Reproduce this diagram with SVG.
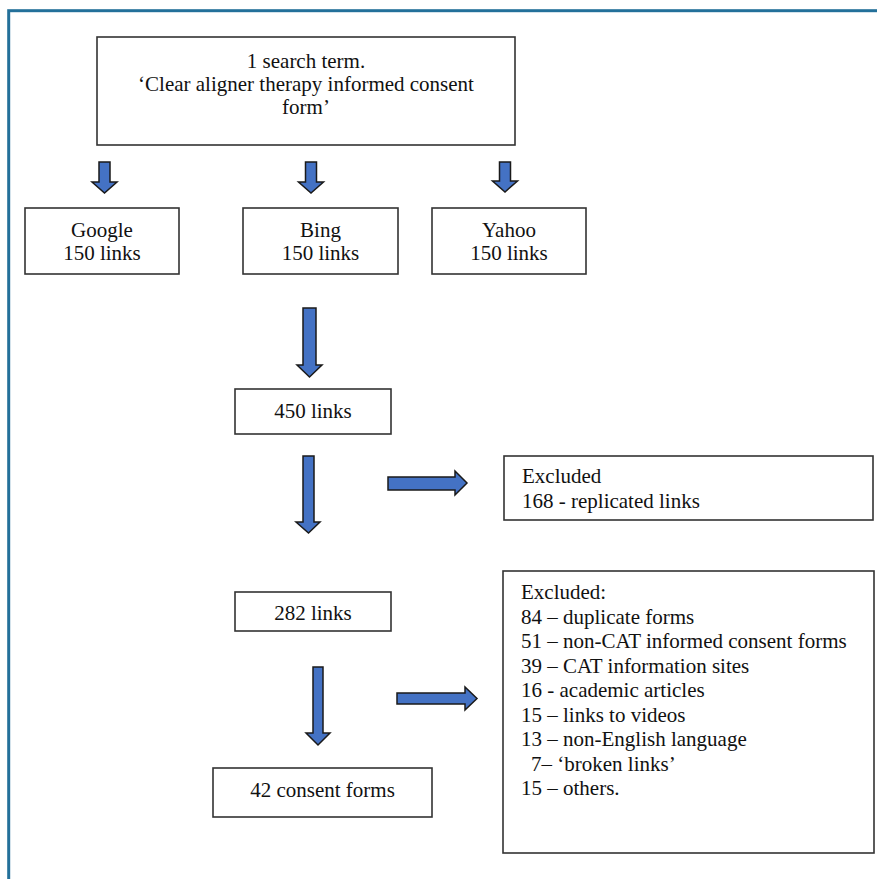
<svg xmlns="http://www.w3.org/2000/svg" width="877" height="879" viewBox="0 0 877 879">
<style>
.box{fill:#fff;stroke:#333;stroke-width:1.6}
.arr{fill:#4472c4;stroke:#1a1a1a;stroke-width:1.5;stroke-linejoin:miter}
.t{font-family:'Liberation Serif','DejaVu Serif','Times New Roman',Times,serif;font-size:21px;fill:#111}
.c{text-anchor:middle}
</style>
<rect x="0" y="0" width="877" height="879" fill="#fff"/>
<rect x="8.7" y="10.7" width="880" height="880" fill="none" stroke="#23709a" stroke-width="3"/>
<g class="t" font-family="Liberation Serif, DejaVu Serif, serif">
<g id="search">
<rect class="box" x="97" y="37" width="418" height="108"/>
<text class="c" x="306" y="68">1 search term.</text>
<text class="c" x="306" y="91">‘Clear aligner therapy informed consent</text>
<text class="c" x="306" y="114">form’</text>
</g>
<g id="google">
<rect class="box" x="25" y="208" width="154" height="66"/>
<text class="c" x="102" y="237">Google</text>
<text class="c" x="102" y="260">150 links</text>
</g>
<g id="bing">
<rect class="box" x="243" y="208" width="155" height="66"/>
<text class="c" x="320.5" y="237">Bing</text>
<text class="c" x="320.5" y="260">150 links</text>
</g>
<g id="yahoo">
<rect class="box" x="432" y="208" width="154" height="66"/>
<text class="c" x="509" y="237">Yahoo</text>
<text class="c" x="509" y="260">150 links</text>
</g>
<g id="links450">
<rect class="box" x="235" y="389" width="156" height="45"/>
<text class="c" x="313" y="418">450 links</text>
</g>
<g id="excluded1">
<rect class="box" x="504" y="456" width="369" height="64"/>
<text x="522" y="483">Excluded</text>
<text x="522" y="508">168 - replicated links</text>
</g>
<g id="links282">
<rect class="box" x="235" y="592" width="156" height="39"/>
<text class="c" x="313" y="620">282 links</text>
</g>
<g id="excluded2">
<rect class="box" x="503" y="571" width="371" height="282"/>
<text x="521" y="599">Excluded:</text>
<text x="521" y="623.5">84 – duplicate forms</text>
<text x="521" y="648">51 – non-CAT informed consent forms</text>
<text x="521" y="672.5">39 – CAT information sites</text>
<text x="521" y="697">16 - academic articles</text>
<text x="521" y="721.5">15 – links to videos</text>
<text x="521" y="746">13 – non-English language</text>
<text x="531" y="770.5">7– ‘broken links’</text>
<text x="521" y="795">15 – others.</text>
</g>
<g id="forms42">
<rect class="box" x="213" y="768" width="219" height="49"/>
<text class="c" x="322.5" y="797">42 consent forms</text>
</g>
</g>
<g id="connectors">
<polygon class="arr" points="99,162 110,162 110,182 117,182 104.5,193 92,182 99,182"/>
<polygon class="arr" points="305.5,162 316.5,162 316.5,182 323.5,182 311,193 298.5,182 305.5,182"/>
<polygon class="arr" points="499.5,162 510.5,162 510.5,181 517.5,181 505,192 492.5,181 499.5,181"/>
<polygon class="arr" points="303,308 316,308 316,365 322,365 309.5,377 297,365 303,365"/>
<polygon class="arr" points="303,456 314,456 314,522 320,522 308.5,533 296,522 303,522"/>
<polygon class="arr" points="313,667 323,667 323,733 330,733 318,745 306,733 313,733"/>
<polygon class="arr" points="388,477 455,477 455,471 467,483 455,495 455,490 388,490"/>
<polygon class="arr" points="397,693 465,693 465,687 477,698.5 465,710 465,704 397,704"/>
</g>
</svg>
